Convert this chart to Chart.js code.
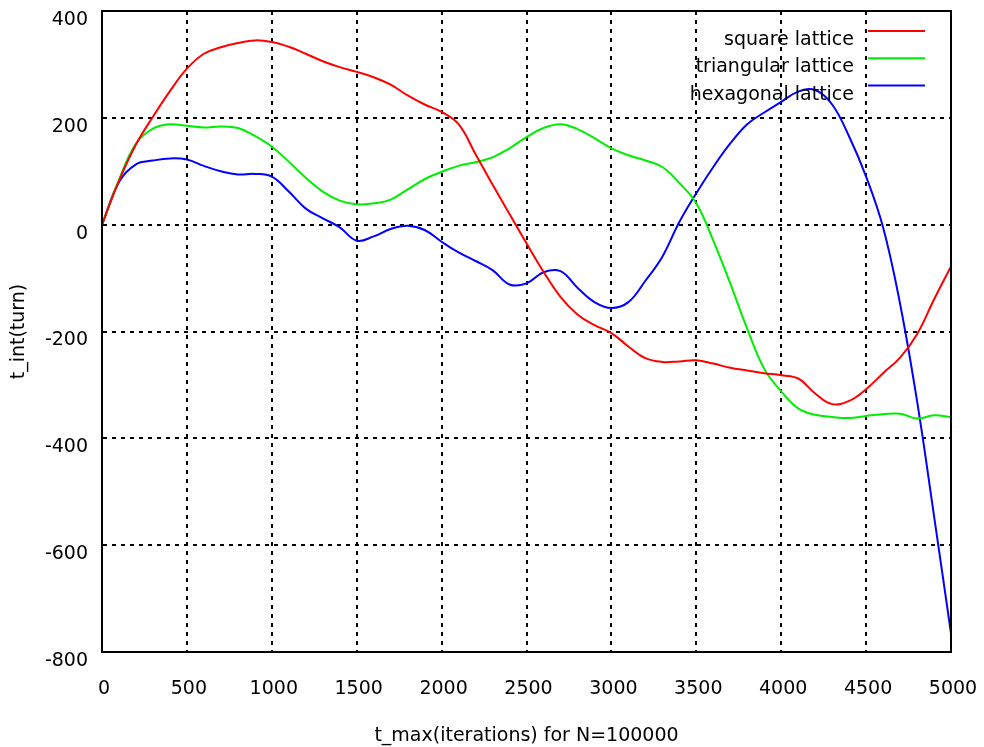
<!DOCTYPE html>
<html lang="en">

<head>
    <meta charset="UTF-8">
    <title>t_int vs t_max</title>
    <script src="https://cdn.jsdelivr.net/npm/chart.js"></script>
    <style>
        body {
            margin: 0;
            background-color: #ffffff;
        }

        #wrap {
            width: 984px;
            height: 747px;
        }
    </style>
</head>

<body>
    <div id="wrap">
        <canvas id="lattice"></canvas>
    </div>

    <script>
        // sample points along t_max
        const tMax = [
            0, 100, 200, 300, 400, 500, 600, 700, 800, 900,
            1000, 1100, 1200, 1300, 1400, 1500, 1600, 1700, 1800, 1900,
            2000, 2100, 2200, 2300, 2400, 2500, 2600, 2700, 2800, 2900,
            3000, 3100, 3200, 3300, 3400, 3500, 3600, 3700, 3800, 3900,
            4000, 4100, 4200, 4300, 4400, 4500, 4600, 4700, 4800, 4900,
            5000
        ];

        const squareLattice = [
            0, 82, 150, 202, 250, 292, 320, 332, 340, 345,
            342, 333, 320, 306, 295, 286, 276, 262, 242, 225,
            211, 188, 132, 75, 20, -35, -88, -135, -168, -188,
            -203, -228, -250, -257, -256, -254, -260, -268, -273, -278,
            -282, -288, -316, -336, -330, -308, -278, -249, -205, -140,
            -78
        ];

        const triangularLattice = [
            0, 84, 152, 180, 188, 185, 182, 184, 181, 166,
            146, 118, 88, 62, 45, 38, 40, 47, 66, 85,
            99, 110, 117, 126, 143, 164, 181, 188, 179, 162,
            143, 130, 120, 108, 78, 40, -30, -110, -195, -270,
            -312, -344, -356, -360, -362, -358, -355, -354, -363, -357,
            -360
        ];

        const hexagonalLattice = [
            0, 80, 113, 120, 124, 122, 110, 100, 94, 95,
            90, 62, 30, 12, -5, -30, -22, -8, -2, -10,
            -32, -52, -68, -85, -112, -110, -89, -87, -118, -145,
            -156, -145, -105, -60, 5, 59, 108, 152, 188, 210,
            230, 249, 252, 225, 165, 90, -5, -148, -330, -545,
            -765
        ];

        const seriesNames = ["square lattice", "triangular lattice", "hexagonal lattice"];
        const seriesColors = ["#ff0000", "#00ee00", "#0000ff"];

        const yTicks = [400, 200, 0, -200, -400, -600, -800];

        const fontFamily = "'DejaVu Sans', 'Liberation Sans', Arial, sans-serif";
        const textFont = { family: fontFamily, size: 19 };

        function toPoints(values) {
            return values.map((v, i) => ({ x: tMax[i], y: v }));
        }

        // axes should not reserve extra room for overhanging labels
        function noOverhang(scale) {
            scale.paddingLeft = 0;
            scale.paddingRight = 0;
            scale.paddingTop = 0;
            scale.paddingBottom = 0;
        }

        // solid frame round the plot area
        const frame = {
            id: "frame",
            afterDraw(chart) {
                const a = chart.chartArea;
                const ctx = chart.ctx;
                ctx.save();
                ctx.strokeStyle = "#000";
                ctx.lineWidth = 2;
                ctx.strokeRect(a.left, a.top, a.right - a.left, a.bottom - a.top);
                ctx.restore();
            }
        };

        // key in the top right corner: name on the left, line sample on the right
        const key = {
            id: "key",
            afterDatasetsDraw(chart) {
                const ctx = chart.ctx;
                ctx.save();
                ctx.font = "19px " + fontFamily;
                ctx.textAlign = "right";
                ctx.textBaseline = "middle";
                chart.data.datasets.forEach((ds, i) => {
                    const y = 31 + i * 27.3;
                    ctx.fillStyle = "#000";
                    ctx.fillText(ds.label, 854, y + 9);
                    ctx.strokeStyle = ds.borderColor;
                    ctx.lineWidth = 2;
                    ctx.beginPath();
                    ctx.moveTo(868, y);
                    ctx.lineTo(925, y);
                    ctx.stroke();
                });
                ctx.restore();
            }
        };

        const ctx = document.getElementById("lattice").getContext("2d");
        new Chart(ctx, {
            type: "line",
            data: {
                datasets: [squareLattice, triangularLattice, hexagonalLattice].map((vals, i) => ({
                    label: seriesNames[i],
                    data: toPoints(vals),
                    borderColor: seriesColors[i],
                    borderWidth: 2,
                    pointRadius: 0,
                    tension: 0.4,
                    fill: false
                }))
            },
            options: {
                responsive: true,
                maintainAspectRatio: false,
                animation: false,
                layout: {
                    padding: { top: 11, right: 33, left: 0, bottom: 0 }
                },
                plugins: {
                    legend: { display: false },
                    tooltip: { enabled: false }
                },
                scales: {
                    x: {
                        type: "linear",
                        min: 0,
                        max: 5000,
                        ticks: {
                            stepSize: 500,
                            color: "#000",
                            font: textFont,
                            padding: 26,
                            labelOffset: 2,
                            maxRotation: 0,
                            callback: v => String(v)
                        },
                        grid: {
                            color: "#000",
                            lineWidth: 2,
                            drawTicks: false
                        },
                        border: { color: "#000", width: 2, dash: [4, 5] },
                        title: {
                            display: true,
                            text: "t_max(iterations) for N=100000",
                            color: "#000",
                            font: textFont,
                            padding: { top: 8, bottom: 0 }
                        },
                        afterFit(scale) {
                            scale.height = 95;
                            noOverhang(scale);
                        }
                    },
                    y: {
                        min: -800,
                        max: 400,
                        afterBuildTicks(scale) {
                            scale.ticks = yTicks.map(v => ({ value: v }));
                        },
                        ticks: {
                            color: "#000",
                            font: textFont,
                            padding: 14,
                            labelOffset: 9,
                            callback: v => String(v)
                        },
                        grid: {
                            color: "#000",
                            lineWidth: 2,
                            drawTicks: false
                        },
                        border: { color: "#000", width: 2, dash: [4, 5] },
                        title: {
                            display: true,
                            text: "t_int(turn)",
                            color: "#000",
                            font: textFont,
                            padding: { top: 8, bottom: 0 }
                        },
                        afterFit(scale) {
                            scale.width = 102;
                            noOverhang(scale);
                        }
                    }
                }
            },
            plugins: [frame, key]
        });
    </script>
</body>

</html>
